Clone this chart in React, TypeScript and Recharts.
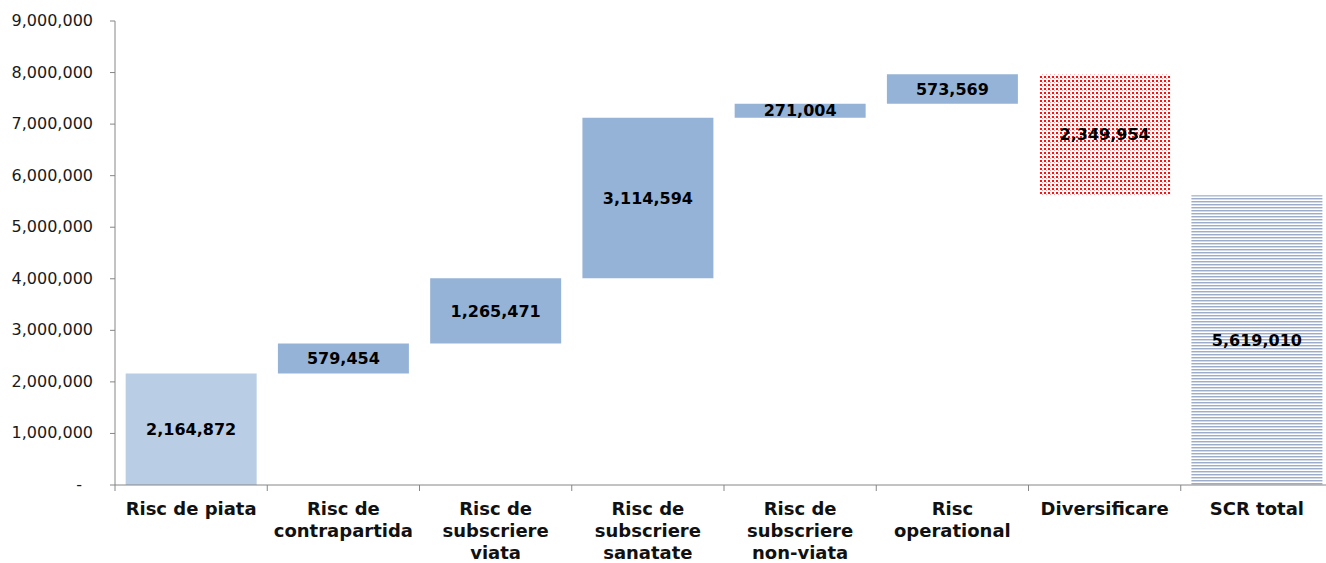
import { BarChart, Bar, XAxis, YAxis, Cell, LabelList } from "recharts";

/* ── Data ─────────────────────────────────────────────────── */
const categoryLines: string[][] = [
  ["Risc de piata"],
  ["Risc de", "contrapartida"],
  ["Risc de", "subscriere", "viata"],
  ["Risc de", "subscriere", "sanatate"],
  ["Risc de", "subscriere", "non-viata"],
  ["Risc", "operational"],
  ["Diversificare"],
  ["SCR total"],
];
const categories = categoryLines.map((l) => l.join(" "));

// individual risk modules (stacked up one after another)
const riskValues = [2164872, 579454, 1265471, 3114594, 271004, 573569];
const diversification = 2349954;
const scrTotal = 5619010;

const yTicks = [0, 1000000, 2000000, 3000000, 4000000, 5000000, 6000000, 7000000, 8000000, 9000000];

/* ── Waterfall rows: [low, high] ranges ───────────────────── */
type Row = { name: string; range: [number, number]; value: number };
const rows: Row[] = [];
let running = 0;
riskValues.forEach((v, i) => {
  rows.push({ name: categories[i], range: [running, running + v], value: v });
  running += v;
});
rows.push({ name: categories[6], range: [running - diversification, running], value: diversification });
rows.push({ name: categories[7], range: [0, scrTotal], value: scrTotal });

const fills = ["#B9CDE5", "#95B3D7", "#95B3D7", "#95B3D7", "#95B3D7", "#95B3D7", "url(#dots)", "url(#hlines)"];

/* ── Layout ───────────────────────────────────────────────── */
const W = 1333;
const H = 563;
const Y_AXIS_W = 115;
const X_AXIS_H = 78;
const TOP = 21;
const band = (W - Y_AXIS_W) / categories.length;
const axisY = H - X_AXIS_H;
const FONT = "Verdana, 'DejaVu Sans', sans-serif";
const AXIS = "#868686";

const fmt = (v: number) => v.toLocaleString("en-US");

function YTick(props: any) {
  const { x, y, payload } = props;
  const zero = payload.value === 0;
  return (
    <text
      x={zero ? x - 11 : x}
      y={y}
      dy={5}
      textAnchor="end"
      fontFamily={FONT}
      fontSize={16}
      fill="#1a1a1a"
    >
      {zero ? "-" : fmt(payload.value)}
    </text>
  );
}

function XTick(props: any) {
  const { x, payload, index } = props;
  const lines = categoryLines[index] ?? [payload.value];
  const left = x - band / 2;
  return (
    <g>
      <line x1={left} y1={axisY} x2={left} y2={axisY + 6} stroke={AXIS} />
      {lines.map((l, i) => (
        <text
          key={i}
          x={x}
          y={axisY + 30 + i * 22}
          textAnchor="middle"
          fontFamily={FONT}
          fontSize={18}
          fontWeight="bold"
          fill="#111"
        >
          {l}
        </text>
      ))}
    </g>
  );
}

export default function App() {
  return (
    <div
      style={{
        position: "absolute",
        left: 0,
        top: 0,
        width: 1326,
        height: 563,
        overflow: "hidden",
        background: "#fff",
      }}
    >
      {/* fill patterns */}
      <svg width={0} height={0} style={{ position: "absolute" }}>
        <defs>
          <pattern id="dots" width={4} height={4} patternUnits="userSpaceOnUse">
            <rect width={4} height={4} fill="#fff" />
            <rect x={0} y={0} width={2} height={2} fill="#FF1010" />
            <rect x={2} y={2} width={1} height={1} fill="#FFA0A0" />
          </pattern>
          <pattern id="hlines" width={4} height={3} patternUnits="userSpaceOnUse">
            <rect width={4} height={3} fill="#fff" />
            <rect y={0} width={4} height={1} fill="#9CACC9" />
            <rect y={1} width={4} height={1} fill="#D3DAE8" />
          </pattern>
        </defs>
      </svg>
      <BarChart
        width={W}
        height={H}
        data={rows}
        margin={{ top: TOP, right: 0, bottom: 0, left: 0 }}
        barCategoryGap="7%"
      >
        <XAxis
          dataKey="name"
          height={X_AXIS_H}
          interval={0}
          axisLine={{ stroke: AXIS }}
          tickLine={false}
          tickSize={0}
          tickMargin={0}
          tick={<XTick />}
        />
        <YAxis
          width={Y_AXIS_W}
          domain={[0, 9000000]}
          ticks={yTicks}
          interval={0}
          axisLine={{ stroke: AXIS }}
          tickLine={{ stroke: AXIS }}
          tickSize={5}
          tickMargin={17}
          tick={<YTick />}
        />
        <Bar dataKey="range" isAnimationActive={false}>
          {rows.map((r, i) => (
            <Cell key={r.name} fill={fills[i]} />
          ))}
          <LabelList
            dataKey="value"
            position="center"
            formatter={(v: any) => fmt(Number(v))}
            fill="#000"
            fontFamily={FONT}
            fontSize={16}
            fontWeight="bold"
          />
        </Bar>
      </BarChart>
    </div>
  );
}
